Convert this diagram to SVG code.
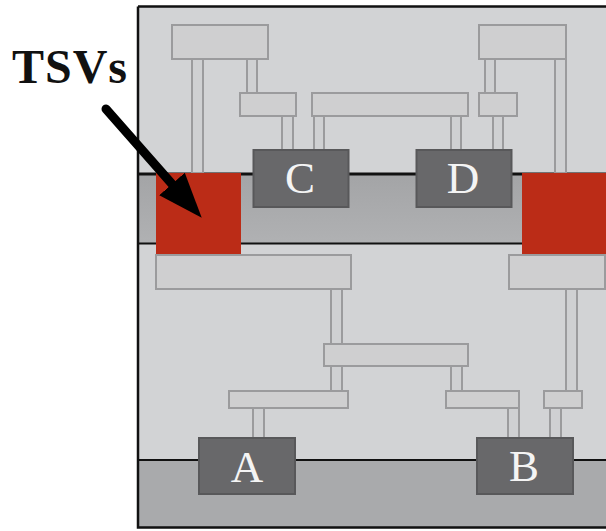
<svg xmlns="http://www.w3.org/2000/svg" width="606" height="531" viewBox="0 0 606 531">
<defs>
<marker id="head" markerUnits="userSpaceOnUse" markerWidth="46" markerHeight="36" refX="0" refY="18" orient="auto"><path d="M0 1L45 18L0 35Z" fill="#000"/></marker>
<linearGradient id="band" x1="0" y1="0" x2="0" y2="1"><stop offset="0" stop-color="#a3a4a6"/><stop offset="1" stop-color="#b0b1b3"/></linearGradient>
</defs>
<style>
.metal{fill:#cfcfd0;stroke:#9b9b9d;stroke-width:2}
.wire{fill:#cfd0d2;stroke:#9b9b9d;stroke-width:2}
.block{fill:#68686a;stroke:#58585a;stroke-width:2}
.tsv{fill:#bb2c17}
.line{stroke:#111;fill:none}
.lbl{font-family:"Liberation Serif","Times New Roman",serif;font-size:45px;fill:#f4f4f4;text-anchor:middle}
</style>
<rect width="606" height="531" fill="#fff"/>
<g id="stack">
<rect x="138" y="6" width="470" height="522" fill="#d2d3d5"/>
<rect x="138" y="173" width="470" height="70" fill="url(#band)"/>
<rect x="138" y="460" width="470" height="68" fill="#a9aaac"/>
<path class="line" stroke-width="3" d="M138 174H606"/>
<path class="line" stroke-width="2" d="M138 243.500H606"/>
<path class="line" stroke-width="2" d="M138 460H606"/>
<path class="line" stroke-width="2.500" d="M138 6.500V527.500H606M138 6.500H606"/>
</g>
<g id="connectors">
<rect class="wire" x="192" y="59" width="11" height="114"/>
<rect class="wire" x="247" y="59" width="10" height="34"/>
<rect class="wire" x="282" y="116" width="11" height="34"/>
<rect class="wire" x="314" y="116" width="10" height="34"/>
<rect class="wire" x="451" y="116" width="10" height="34"/>
<rect class="wire" x="493" y="116" width="10" height="34"/>
<rect class="wire" x="485" y="59" width="10" height="34"/>
<rect class="wire" x="555" y="59" width="11" height="114"/>
<rect class="wire" x="331" y="289" width="11" height="55"/>
<rect class="wire" x="331" y="366" width="11" height="25"/>
<rect class="wire" x="451" y="366" width="11" height="25"/>
<rect class="wire" x="253" y="408" width="11" height="30"/>
<rect class="wire" x="508" y="408" width="11" height="30"/>
<rect class="wire" x="550" y="408" width="11" height="30"/>
<rect class="wire" x="566" y="289" width="11" height="102"/>
</g>
<g id="tsv-left"><rect class="tsv" x="156" y="173" width="85" height="81"/></g>
<g id="tsv-right"><rect class="tsv" x="522" y="173" width="84" height="81"/></g>
<g id="metal-1"><rect class="metal" x="172" y="25" width="96" height="34"/></g>
<g id="metal-2"><rect class="metal" x="240" y="93" width="56" height="23"/></g>
<g id="metal-3"><rect class="metal" x="312" y="93" width="156" height="23"/></g>
<g id="metal-4"><rect class="metal" x="479" y="93" width="38" height="23"/></g>
<g id="metal-5"><rect class="metal" x="479" y="25" width="87" height="34"/></g>
<g id="metal-6"><rect class="metal" x="156" y="255" width="195" height="34"/></g>
<g id="metal-7"><rect class="metal" x="509" y="255" width="96" height="34"/></g>
<g id="metal-8"><rect class="metal" x="324" y="344" width="144" height="22"/></g>
<g id="metal-9"><rect class="metal" x="229" y="391" width="119" height="17"/></g>
<g id="metal-10"><rect class="metal" x="446" y="391" width="73" height="17"/></g>
<g id="metal-11"><rect class="metal" x="544" y="391" width="38" height="17"/></g>
<g id="block-c"><rect class="block" x="253.500" y="150" width="95" height="57"/><text class="lbl" x="300" y="193">C</text></g>
<g id="block-d"><rect class="block" x="416.500" y="150" width="95" height="57"/><text class="lbl" x="463" y="193">D</text></g>
<g id="block-a"><rect class="block" x="199" y="438" width="96" height="56"/><text class="lbl" x="247" y="482">A</text></g>
<g id="block-b"><rect class="block" x="477" y="438" width="96" height="56"/><text class="lbl" x="524" y="481">B</text></g>
<g id="callout">
<text x="12" y="83" font-family="'Liberation Serif','Times New Roman',serif" font-size="48" font-weight="bold" fill="#111" textLength="115" lengthAdjust="spacing">TSVs</text>
<line x1="106" y1="109" x2="172" y2="184" stroke="#000" stroke-width="9" stroke-linecap="round" marker-end="url(#head)"/>
</g>
</svg>
